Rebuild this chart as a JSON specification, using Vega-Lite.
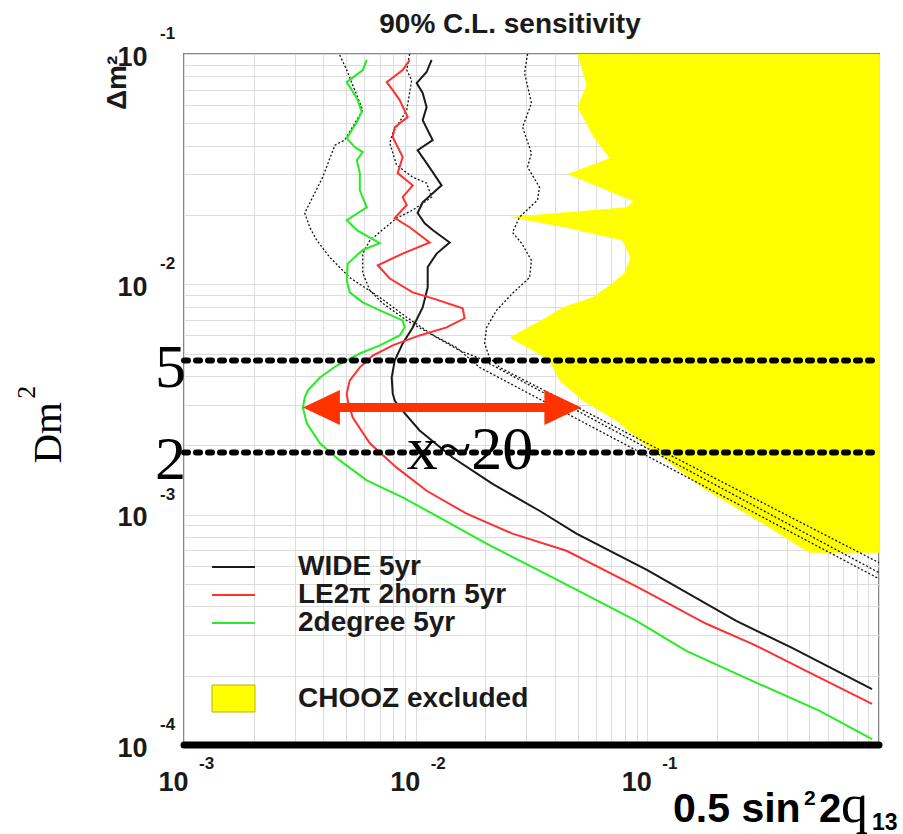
{
  "$schema": "https://vega.github.io/schema/vega-lite/v6.json",
  "autosize": {"type": "none"},
  "padding": {"left": 184, "top": 54, "right": 24, "bottom": 89},
  "width": 695,
  "height": 691,
  "background": "white",
  "config": {"view": {"stroke": "#888888", "strokeWidth": 2}, "font": "Liberation Sans"},
  "datasets": {
    "chooz": [
      {"region": "CHOOZ excluded", "s": 0.04993, "dm": 0.1},
      {"region": "CHOOZ excluded", "s": 0.05461, "dm": 0.0733},
      {"region": "CHOOZ excluded", "s": 0.04993, "dm": 0.0588},
      {"region": "CHOOZ excluded", "s": 0.0585, "dm": 0.0436},
      {"region": "CHOOZ excluded", "s": 0.0686, "dm": 0.0353},
      {"region": "CHOOZ excluded", "s": 0.04521, "dm": 0.0301},
      {"region": "CHOOZ excluded", "s": 0.087, "dm": 0.02296},
      {"region": "CHOOZ excluded", "s": 0.0812, "dm": 0.0216},
      {"region": "CHOOZ excluded", "s": 0.02542, "dm": 0.0196},
      {"region": "CHOOZ excluded", "s": 0.04611, "dm": 0.0175},
      {"region": "CHOOZ excluded", "s": 0.078, "dm": 0.0155},
      {"region": "CHOOZ excluded", "s": 0.0845, "dm": 0.013},
      {"region": "CHOOZ excluded", "s": 0.0796, "dm": 0.0112},
      {"region": "CHOOZ excluded", "s": 0.07067, "dm": 0.0101},
      {"region": "CHOOZ excluded", "s": 0.05794, "dm": 0.00878},
      {"region": "CHOOZ excluded", "s": 0.04302, "dm": 0.00794},
      {"region": "CHOOZ excluded", "s": 0.0367, "dm": 0.00719},
      {"region": "CHOOZ excluded", "s": 0.02542, "dm": 0.00588},
      {"region": "CHOOZ excluded", "s": 0.03194, "dm": 0.00516},
      {"region": "CHOOZ excluded", "s": 0.03781, "dm": 0.00467},
      {"region": "CHOOZ excluded", "s": 0.04176, "dm": 0.00382},
      {"region": "CHOOZ excluded", "s": 0.05247, "dm": 0.00313},
      {"region": "CHOOZ excluded", "s": 0.07354, "dm": 0.00256},
      {"region": "CHOOZ excluded", "s": 0.102, "dm": 0.00194},
      {"region": "CHOOZ excluded", "s": 0.1334, "dm": 0.0016},
      {"region": "CHOOZ excluded", "s": 0.1726, "dm": 0.00131},
      {"region": "CHOOZ excluded", "s": 0.2419, "dm": 0.00107},
      {"region": "CHOOZ excluded", "s": 0.3357, "dm": 0.000878},
      {"region": "CHOOZ excluded", "s": 0.4992, "dm": 0.000684}
    ],
    "dotted": [
      {"curve": "d1", "s": 0.0047, "dm": 0.099},
      {"curve": "d1", "s": 0.00504, "dm": 0.0852},
      {"curve": "d1", "s": 0.00591, "dm": 0.0571},
      {"curve": "d1", "s": 0.00494, "dm": 0.0423},
      {"curve": "d1", "s": 0.00448, "dm": 0.0402},
      {"curve": "d1", "s": 0.00397, "dm": 0.0292},
      {"curve": "d1", "s": 0.00332, "dm": 0.0204},
      {"curve": "d1", "s": 0.00349, "dm": 0.0177},
      {"curve": "d1", "s": 0.003745, "dm": 0.0155},
      {"curve": "d1", "s": 0.00426, "dm": 0.0131},
      {"curve": "d1", "s": 0.00519, "dm": 0.0107},
      {"curve": "d1", "s": 0.007, "dm": 0.00878},
      {"curve": "d1", "s": 0.00915, "dm": 0.00719},
      {"curve": "d1", "s": 0.01232, "dm": 0.00588},
      {"curve": "d1", "s": 0.01548, "dm": 0.00516},
      {"curve": "d1", "s": 0.01888, "dm": 0.00477},
      {"curve": "d1", "s": 1.0, "dm": 0.00056},
      {"curve": "d2", "s": 0.00942, "dm": 0.1},
      {"curve": "d2", "s": 0.00915, "dm": 0.0852},
      {"curve": "d2", "s": 0.00961, "dm": 0.077},
      {"curve": "d2", "s": 0.00915, "dm": 0.0571},
      {"curve": "d2", "s": 0.00796, "dm": 0.0453},
      {"curve": "d2", "s": 0.00773, "dm": 0.041},
      {"curve": "d2", "s": 0.00828, "dm": 0.0329},
      {"curve": "d2", "s": 0.00971, "dm": 0.0292},
      {"curve": "d2", "s": 0.01115, "dm": 0.0275},
      {"curve": "d2", "s": 0.01172, "dm": 0.0239},
      {"curve": "d2", "s": 0.00971, "dm": 0.021},
      {"curve": "d2", "s": 0.00828, "dm": 0.0194},
      {"curve": "d2", "s": 0.00634, "dm": 0.0155},
      {"curve": "d2", "s": 0.00591, "dm": 0.0136},
      {"curve": "d2", "s": 0.00591, "dm": 0.0112},
      {"curve": "d2", "s": 0.00634, "dm": 0.00942},
      {"curve": "d2", "s": 0.00721, "dm": 0.00827},
      {"curve": "d2", "s": 0.00915, "dm": 0.00697},
      {"curve": "d2", "s": 0.01149, "dm": 0.00612},
      {"curve": "d2", "s": 0.01502, "dm": 0.00532},
      {"curve": "d2", "s": 0.01888, "dm": 0.00436},
      {"curve": "d2", "s": 1.0, "dm": 0.000527},
      {"curve": "d3", "s": 0.0304, "dm": 0.1},
      {"curve": "d3", "s": 0.02951, "dm": 0.0827},
      {"curve": "d3", "s": 0.03162, "dm": 0.0612},
      {"curve": "d3", "s": 0.02893, "dm": 0.0481},
      {"curve": "d3", "s": 0.03162, "dm": 0.0371},
      {"curve": "d3", "s": 0.0304, "dm": 0.0323},
      {"curve": "d3", "s": 0.03424, "dm": 0.0264},
      {"curve": "d3", "s": 0.03356, "dm": 0.0232},
      {"curve": "d3", "s": 0.02808, "dm": 0.0196},
      {"curve": "d3", "s": 0.02619, "dm": 0.0168},
      {"curve": "d3", "s": 0.02864, "dm": 0.0151},
      {"curve": "d3", "s": 0.03162, "dm": 0.0127},
      {"curve": "d3", "s": 0.03101, "dm": 0.0107},
      {"curve": "d3", "s": 0.02619, "dm": 0.00914},
      {"curve": "d3", "s": 0.02234, "dm": 0.00771},
      {"curve": "d3", "s": 0.02023, "dm": 0.0065},
      {"curve": "d3", "s": 0.01984, "dm": 0.00554},
      {"curve": "d3", "s": 0.02084, "dm": 0.00481},
      {"curve": "d3", "s": 0.02302, "dm": 0.00436},
      {"curve": "d3", "s": 1.0, "dm": 0.000619}
    ],
    "curves": [
      {"series": "WIDE 5yr", "s": 0.01172, "dm": 0.0942},
      {"series": "WIDE 5yr", "s": 0.01115, "dm": 0.0835},
      {"series": "WIDE 5yr", "s": 0.0101, "dm": 0.0748},
      {"series": "WIDE 5yr", "s": 0.01072, "dm": 0.0677},
      {"series": "WIDE 5yr", "s": 0.01115, "dm": 0.0588},
      {"series": "WIDE 5yr", "s": 0.01072, "dm": 0.0516},
      {"series": "WIDE 5yr", "s": 0.01184, "dm": 0.0423},
      {"series": "WIDE 5yr", "s": 0.0102, "dm": 0.0382},
      {"series": "WIDE 5yr", "s": 0.01115, "dm": 0.0336},
      {"series": "WIDE 5yr", "s": 0.01294, "dm": 0.0269},
      {"series": "WIDE 5yr", "s": 0.01072, "dm": 0.0227},
      {"series": "WIDE 5yr", "s": 0.0102, "dm": 0.0204},
      {"series": "WIDE 5yr", "s": 0.01094, "dm": 0.0184},
      {"series": "WIDE 5yr", "s": 0.01184, "dm": 0.0172},
      {"series": "WIDE 5yr", "s": 0.01402, "dm": 0.0152},
      {"series": "WIDE 5yr", "s": 0.01232, "dm": 0.0136},
      {"series": "WIDE 5yr", "s": 0.01127, "dm": 0.0119},
      {"series": "WIDE 5yr", "s": 0.01127, "dm": 0.0097},
      {"series": "WIDE 5yr", "s": 0.01072, "dm": 0.00794},
      {"series": "WIDE 5yr", "s": 0.00971, "dm": 0.0065},
      {"series": "WIDE 5yr", "s": 0.00879, "dm": 0.00554},
      {"series": "WIDE 5yr", "s": 0.00812, "dm": 0.00467},
      {"series": "WIDE 5yr", "s": 0.00788, "dm": 0.00394},
      {"series": "WIDE 5yr", "s": 0.00796, "dm": 0.00336},
      {"series": "WIDE 5yr", "s": 0.00812, "dm": 0.00313},
      {"series": "WIDE 5yr", "s": 0.00853, "dm": 0.00292},
      {"series": "WIDE 5yr", "s": 0.0104, "dm": 0.00232},
      {"series": "WIDE 5yr", "s": 0.01444, "dm": 0.00177},
      {"series": "WIDE 5yr", "s": 0.02147, "dm": 0.00136},
      {"series": "WIDE 5yr", "s": 0.03424, "dm": 0.00104},
      {"series": "WIDE 5yr", "s": 0.04943, "dm": 0.000827},
      {"series": "WIDE 5yr", "s": 0.1, "dm": 0.000574},
      {"series": "WIDE 5yr", "s": 0.2419, "dm": 0.000346},
      {"series": "WIDE 5yr", "s": 0.4217, "dm": 0.000264},
      {"series": "WIDE 5yr", "s": 0.933, "dm": 0.000175},
      {"series": "LE2π 2horn 5yr", "s": 0.00942, "dm": 0.0942},
      {"series": "LE2π 2horn 5yr", "s": 0.00879, "dm": 0.0852},
      {"series": "LE2π 2horn 5yr", "s": 0.0075, "dm": 0.0755},
      {"series": "LE2π 2horn 5yr", "s": 0.00796, "dm": 0.0697},
      {"series": "LE2π 2horn 5yr", "s": 0.00853, "dm": 0.0631},
      {"series": "LE2π 2horn 5yr", "s": 0.00924, "dm": 0.0532},
      {"series": "LE2π 2horn 5yr", "s": 0.00812, "dm": 0.0481},
      {"series": "LE2π 2horn 5yr", "s": 0.00796, "dm": 0.0436},
      {"series": "LE2π 2horn 5yr", "s": 0.00879, "dm": 0.0357},
      {"series": "LE2π 2horn 5yr", "s": 0.00836, "dm": 0.0304},
      {"series": "LE2π 2horn 5yr", "s": 0.00971, "dm": 0.0269},
      {"series": "LE2π 2horn 5yr", "s": 0.00879, "dm": 0.0239},
      {"series": "LE2π 2horn 5yr", "s": 0.00915, "dm": 0.0221},
      {"series": "LE2π 2horn 5yr", "s": 0.00812, "dm": 0.0194},
      {"series": "LE2π 2horn 5yr", "s": 0.00942, "dm": 0.0177},
      {"series": "LE2π 2horn 5yr", "s": 0.01149, "dm": 0.0152},
      {"series": "LE2π 2horn 5yr", "s": 0.00879, "dm": 0.0136},
      {"series": "LE2π 2horn 5yr", "s": 0.00686, "dm": 0.0121},
      {"series": "LE2π 2horn 5yr", "s": 0.00773, "dm": 0.0106},
      {"series": "LE2π 2horn 5yr", "s": 0.00971, "dm": 0.00923},
      {"series": "LE2π 2horn 5yr", "s": 0.01184, "dm": 0.00869},
      {"series": "LE2π 2horn 5yr", "s": 0.01595, "dm": 0.00787},
      {"series": "LE2π 2horn 5yr", "s": 0.01626, "dm": 0.00712},
      {"series": "LE2π 2horn 5yr", "s": 0.0136, "dm": 0.0065},
      {"series": "LE2π 2horn 5yr", "s": 0.0104, "dm": 0.006},
      {"series": "LE2π 2horn 5yr", "s": 0.00796, "dm": 0.00543},
      {"series": "LE2π 2horn 5yr", "s": 0.00653, "dm": 0.00491},
      {"series": "LE2π 2horn 5yr", "s": 0.00574, "dm": 0.00436},
      {"series": "LE2π 2horn 5yr", "s": 0.00519, "dm": 0.00382},
      {"series": "LE2π 2horn 5yr", "s": 0.00504, "dm": 0.00336},
      {"series": "LE2π 2horn 5yr", "s": 0.00509, "dm": 0.00313},
      {"series": "LE2π 2horn 5yr", "s": 0.00535, "dm": 0.00264},
      {"series": "LE2π 2horn 5yr", "s": 0.00634, "dm": 0.00204},
      {"series": "LE2π 2horn 5yr", "s": 0.00828, "dm": 0.0016},
      {"series": "LE2π 2horn 5yr", "s": 0.01115, "dm": 0.00127},
      {"series": "LE2π 2horn 5yr", "s": 0.01659, "dm": 0.00101},
      {"series": "LE2π 2horn 5yr", "s": 0.02619, "dm": 0.000827},
      {"series": "LE2π 2horn 5yr", "s": 0.04477, "dm": 0.000697},
      {"series": "LE2π 2horn 5yr", "s": 0.0917, "dm": 0.000482},
      {"series": "LE2π 2horn 5yr", "s": 0.1797, "dm": 0.000336},
      {"series": "LE2π 2horn 5yr", "s": 0.2836, "dm": 0.000275},
      {"series": "LE2π 2horn 5yr", "s": 0.4845, "dm": 0.00021},
      {"series": "LE2π 2horn 5yr", "s": 0.933, "dm": 0.000151},
      {"series": "2degree 5yr", "s": 0.00615, "dm": 0.0942},
      {"series": "2degree 5yr", "s": 0.00591, "dm": 0.0852},
      {"series": "2degree 5yr", "s": 0.00504, "dm": 0.0755},
      {"series": "2degree 5yr", "s": 0.0053, "dm": 0.0697},
      {"series": "2degree 5yr", "s": 0.00562, "dm": 0.0631},
      {"series": "2degree 5yr", "s": 0.00585, "dm": 0.056},
      {"series": "2degree 5yr", "s": 0.00557, "dm": 0.0506},
      {"series": "2degree 5yr", "s": 0.00504, "dm": 0.0431},
      {"series": "2degree 5yr", "s": 0.00546, "dm": 0.0394},
      {"series": "2degree 5yr", "s": 0.00591, "dm": 0.0375},
      {"series": "2degree 5yr", "s": 0.00557, "dm": 0.0346},
      {"series": "2degree 5yr", "s": 0.00574, "dm": 0.0304},
      {"series": "2degree 5yr", "s": 0.00574, "dm": 0.0256},
      {"series": "2degree 5yr", "s": 0.00615, "dm": 0.0216},
      {"series": "2degree 5yr", "s": 0.00504, "dm": 0.019},
      {"series": "2degree 5yr", "s": 0.00557, "dm": 0.0172},
      {"series": "2degree 5yr", "s": 0.007, "dm": 0.0151},
      {"series": "2degree 5yr", "s": 0.00591, "dm": 0.0141},
      {"series": "2degree 5yr", "s": 0.00509, "dm": 0.0123},
      {"series": "2degree 5yr", "s": 0.00504, "dm": 0.0104},
      {"series": "2degree 5yr", "s": 0.00519, "dm": 0.00923},
      {"series": "2degree 5yr", "s": 0.00591, "dm": 0.00835},
      {"series": "2degree 5yr", "s": 0.007, "dm": 0.00771},
      {"series": "2degree 5yr", "s": 0.00879, "dm": 0.00697},
      {"series": "2degree 5yr", "s": 0.00897, "dm": 0.0065},
      {"series": "2degree 5yr", "s": 0.00853, "dm": 0.006},
      {"series": "2degree 5yr", "s": 0.007, "dm": 0.00543},
      {"series": "2degree 5yr", "s": 0.00574, "dm": 0.00501},
      {"series": "2degree 5yr", "s": 0.00457, "dm": 0.00444},
      {"series": "2degree 5yr", "s": 0.00386, "dm": 0.00394},
      {"series": "2degree 5yr", "s": 0.00342, "dm": 0.00346},
      {"series": "2degree 5yr", "s": 0.00332, "dm": 0.00322},
      {"series": "2degree 5yr", "s": 0.00326, "dm": 0.00292},
      {"series": "2degree 5yr", "s": 0.00339, "dm": 0.00249},
      {"series": "2degree 5yr", "s": 0.00386, "dm": 0.00204},
      {"series": "2degree 5yr", "s": 0.0047, "dm": 0.00172},
      {"series": "2degree 5yr", "s": 0.00615, "dm": 0.00141},
      {"series": "2degree 5yr", "s": 0.00879, "dm": 0.00119},
      {"series": "2degree 5yr", "s": 0.01269, "dm": 0.00097},
      {"series": "2degree 5yr", "s": 0.02023, "dm": 0.000748},
      {"series": "2degree 5yr", "s": 0.0429, "dm": 0.000508},
      {"series": "2degree 5yr", "s": 0.0897, "dm": 0.000346},
      {"series": "2degree 5yr", "s": 0.1473, "dm": 0.000256},
      {"series": "2degree 5yr", "s": 0.2836, "dm": 0.00019},
      {"series": "2degree 5yr", "s": 0.5512, "dm": 0.000141},
      {"series": "2degree 5yr", "s": 0.933, "dm": 0.000106}
    ],
    "levels": [
      {"dm": 0.00467, "t": "5"},
      {"dm": 0.00186, "t": "2"}
    ],
    "arrow": [
      {"s": 0.00326, "dm": 0.00292, "dir": "left"},
      {"s": 0.0519, "dm": 0.00292, "dir": "right"}
    ],
    "yexp": [
      {"dm": 0.1, "e": "-1"},
      {"dm": 0.01, "e": "-2"},
      {"dm": 0.001, "e": "-3"},
      {"dm": 0.0001, "e": "-4"}
    ],
    "xexp": [
      {"s": 0.001, "e": "-3"},
      {"s": 0.01, "e": "-2"},
      {"s": 0.1, "e": "-1"}
    ]
  },
  "layer": [
    {
      "data": {"name": "chooz"},
      "mark": {"type": "area", "orient": "horizontal", "opacity": 1},
      "encoding": {
        "y": {"field": "dm", "type": "quantitative", "scale": {"type": "log", "domain": [0.0001, 0.1], "nice": false},
          "axis": {"values": [0.0001,0.0002,0.0003,0.0004,0.0005,0.0006,0.0007,0.0008,0.0009,0.001,0.002,0.003,0.004,0.005,0.006,0.007,0.008,0.009,0.01,0.02,0.03,0.04,0.05,0.06,0.07,0.08,0.09,0.1],
            "labelExpr": "(datum.value == 0.0001 || datum.value == 0.001 || datum.value == 0.01 || datum.value == 0.1) ? '10' : ''",
            "grid": true, "gridColor": "#dddddd", "gridWidth": 1, "ticks": false, "domain": false,
            "labelFont": "Liberation Sans", "labelFontWeight": "bold", "labelFontSize": 27, "labelColor": "#1a1a1a",
            "labelAlign": "right", "labelBaseline": "middle", "labelPadding": 37, "labelOffset": 3, "labelOverlap": false, "labelFlush": false,
            "title": "Dm", "titleFont": "Liberation Serif", "titleFontSize": 41, "titleFontWeight": "normal", "titleColor": "#000000",
            "titleAngle": 270, "titleX": -124, "titleY": 409, "titleAlign": "left", "titleBaseline": "alphabetic"}},
        "x": {"field": "s", "type": "quantitative", "stack": null, "scale": {"type": "log", "domain": [0.001, 1], "nice": false},
          "axis": {"values": [0.001,0.002,0.003,0.004,0.005,0.006,0.007,0.008,0.009,0.01,0.02,0.03,0.04,0.05,0.06,0.07,0.08,0.09,0.1,0.2,0.3,0.4,0.5,0.6,0.7,0.8,0.9,1],
            "labelExpr": "(datum.value == 0.001 || datum.value == 0.01 || datum.value == 0.1) ? '10' : ''",
            "grid": true, "gridColor": "#dddddd", "gridWidth": 1, "ticks": false, "domain": false,
            "labelFont": "Liberation Sans", "labelFontWeight": "bold", "labelFontSize": 27, "labelColor": "#1a1a1a",
            "labelAlign": "center", "labelBaseline": "top", "labelPadding": 24, "labelOffset": -11, "labelOverlap": false, "labelFlush": false,
            "title": null}},
        "x2": {"datum": 1},
        "fill": {"field": "region", "type": "nominal", "scale": {"range": ["#ffff00"]},
          "legend": {"orient": "none", "legendX": 35.5, "legendY": 630.5, "title": null, "direction": "vertical",
            "symbolType": "M-1.79,-1.125H1.79V1.125H-1.79Z", "symbolSize": 576, "symbolStrokeColor": "#b5b500", "symbolStrokeWidth": 1, "symbolOpacity": 1,
            "labelFont": "Liberation Sans", "labelFontWeight": "bold", "labelFontSize": 28, "labelColor": "#1a1a1a", "labelOffset": 50.5, "labelLimit": 400, "rowPadding": 0, "padding": 0}},
        "order": {"value": null}
      }
    },
    {
      "data": {"name": "dotted"},
      "mark": {"type": "line", "color": "#111111", "strokeWidth": 1.3, "strokeDash": [2, 2]},
      "encoding": {
        "x": {"field": "s", "type": "quantitative", "scale": {"type": "log", "domain": [0.001, 1], "nice": false}},
        "y": {"field": "dm", "type": "quantitative", "scale": {"type": "log", "domain": [0.0001, 0.1], "nice": false}},
        "detail": {"field": "curve", "type": "nominal"},
        "order": {"value": null}
      }
    },
    {
      "data": {"name": "curves"},
      "mark": {"type": "line", "strokeWidth": 2},
      "encoding": {
        "x": {"field": "s", "type": "quantitative", "scale": {"type": "log", "domain": [0.001, 1], "nice": false}},
        "y": {"field": "dm", "type": "quantitative", "scale": {"type": "log", "domain": [0.0001, 0.1], "nice": false}},
        "stroke": {"field": "series", "type": "nominal",
          "scale": {"domain": ["WIDE 5yr", "LE2π 2horn 5yr", "2degree 5yr"], "range": ["#1a1a1a", "#ff3030", "#22ee22"]},
          "legend": {"orient": "none", "legendX": 35.5, "legendY": 499, "title": null, "direction": "vertical",
            "symbolType": "M-1.79,0H1.79", "symbolSize": 576, "symbolStrokeWidth": 2,
            "labelFont": "Liberation Sans", "labelFontWeight": "bold", "labelFontSize": 28, "labelColor": "#1a1a1a", "labelOffset": 50.5, "labelLimit": 400, "rowPadding": 0, "padding": 0}},
        "order": {"value": null}
      }
    },
    {
      "data": {"name": "levels"},
      "mark": {"type": "rule", "color": "#000000", "strokeWidth": 6, "strokeDash": [4, 8], "strokeCap": "round"},
      "encoding": {
        "x": {"datum": 0.001, "type": "quantitative", "scale": {"type": "log", "domain": [0.001, 1], "nice": false}},
        "x2": {"datum": 1},
        "y": {"field": "dm", "type": "quantitative", "scale": {"type": "log", "domain": [0.0001, 0.1], "nice": false}}
      }
    },
    {
      "data": {"values": [{}]},
      "mark": {"type": "rule", "color": "#000000", "strokeWidth": 7, "strokeCap": "round"},
      "encoding": {
        "x": {"datum": 0.001, "type": "quantitative", "scale": {"type": "log", "domain": [0.001, 1], "nice": false}},
        "x2": {"datum": 1},
        "y": {"datum": 0.0001, "type": "quantitative", "scale": {"type": "log", "domain": [0.0001, 0.1], "nice": false}}
      }
    },
    {
      "data": {"values": [{}]},
      "mark": {"type": "rule", "color": "#ff3300", "strokeWidth": 9},
      "encoding": {
        "x": {"datum": 0.00386, "type": "quantitative", "scale": {"type": "log", "domain": [0.001, 1], "nice": false}},
        "x2": {"datum": 0.0439},
        "y": {"datum": 0.00292, "type": "quantitative", "scale": {"type": "log", "domain": [0.0001, 0.1], "nice": false}}
      }
    },
    {
      "data": {"name": "arrow"},
      "mark": {"type": "point", "filled": true, "size": 1369, "color": "#ff3300", "opacity": 1, "strokeWidth": 0},
      "encoding": {
        "x": {"field": "s", "type": "quantitative", "scale": {"type": "log", "domain": [0.001, 1], "nice": false}},
        "y": {"field": "dm", "type": "quantitative", "scale": {"type": "log", "domain": [0.0001, 0.1], "nice": false}},
        "shape": {"field": "dir", "type": "nominal", "scale": {"domain": ["left", "right"], "range": ["M0,0L2,-0.95L2,0.95Z", "M0,0L-2,-0.95L-2,0.95Z"]}, "legend": null}
      }
    },
    {
      "data": {"name": "levels"},
      "mark": {"type": "text", "align": "right", "baseline": "alphabetic", "dx": 2, "dy": 26.5, "font": "Liberation Serif", "fontSize": 62, "color": "#000000"},
      "encoding": {
        "x": {"datum": 0.001, "type": "quantitative", "scale": {"type": "log", "domain": [0.001, 1], "nice": false}},
        "y": {"field": "dm", "type": "quantitative", "scale": {"type": "log", "domain": [0.0001, 0.1], "nice": false}},
        "text": {"field": "t"}
      }
    },
    {
      "data": {"values": [{}]},
      "mark": {"type": "text", "text": "x~20", "align": "left", "baseline": "alphabetic", "dy": 16, "font": "Liberation Serif", "fontSize": 62, "color": "#000000"},
      "encoding": {
        "x": {"datum": 0.00915, "type": "quantitative", "scale": {"type": "log", "domain": [0.001, 1], "nice": false}},
        "y": {"datum": 0.00186, "type": "quantitative", "scale": {"type": "log", "domain": [0.0001, 0.1], "nice": false}}
      }
    },
    {
      "data": {"values": [{}]},
      "mark": {"type": "text", "text": "90% C.L. sensitivity", "align": "center", "baseline": "alphabetic", "dy": -21, "font": "Liberation Sans", "fontWeight": "bold", "fontSize": 28, "color": "#1a1a1a"},
      "encoding": {
        "x": {"datum": 0.02554, "type": "quantitative", "scale": {"type": "log", "domain": [0.001, 1], "nice": false}},
        "y": {"datum": 0.1, "type": "quantitative", "scale": {"type": "log", "domain": [0.0001, 0.1], "nice": false}}
      }
    },
    {
      "data": {"name": "yexp"},
      "mark": {"type": "text", "align": "left", "baseline": "middle", "dx": -24, "dy": -20, "font": "Liberation Sans", "fontWeight": "bold", "fontSize": 17, "color": "#1a1a1a"},
      "encoding": {
        "x": {"datum": 0.001, "type": "quantitative", "scale": {"type": "log", "domain": [0.001, 1], "nice": false}},
        "y": {"field": "dm", "type": "quantitative", "scale": {"type": "log", "domain": [0.0001, 0.1], "nice": false}},
        "text": {"field": "e"}
      }
    },
    {
      "data": {"name": "xexp"},
      "mark": {"type": "text", "align": "left", "baseline": "middle", "dx": 15, "dy": 19, "font": "Liberation Sans", "fontWeight": "bold", "fontSize": 17, "color": "#1a1a1a"},
      "encoding": {
        "x": {"field": "s", "type": "quantitative", "scale": {"type": "log", "domain": [0.001, 1], "nice": false}},
        "y": {"datum": 0.0001, "type": "quantitative", "scale": {"type": "log", "domain": [0.0001, 0.1], "nice": false}},
        "text": {"field": "e"}
      }
    },
    {
      "data": {"values": [{}]},
      "mark": {"type": "text", "text": "Δm²", "angle": 270, "align": "left", "baseline": "alphabetic", "font": "Liberation Sans", "fontWeight": "bold", "fontSize": 28, "color": "#1a1a1a"},
      "encoding": {
        "x": {"datum": 0.000562, "type": "quantitative", "scale": {"type": "log", "domain": [0.001, 1], "nice": false}},
        "y": {"datum": 0.0571, "type": "quantitative", "scale": {"type": "log", "domain": [0.0001, 0.1], "nice": false}}
      }
    },
    {
      "data": {"values": [{}]},
      "mark": {"type": "text", "text": "2", "angle": 270, "align": "left", "baseline": "alphabetic", "font": "Liberation Serif", "fontSize": 26, "color": "#000000"},
      "encoding": {
        "x": {"datum": 0.000228, "type": "quantitative", "scale": {"type": "log", "domain": [0.001, 1], "nice": false}},
        "y": {"datum": 0.00319, "type": "quantitative", "scale": {"type": "log", "domain": [0.0001, 0.1], "nice": false}}
      }
    },
    {
      "data": {"values": [{}]},
      "mark": {"type": "text", "text": "0.5 sin", "align": "left", "baseline": "alphabetic", "dx": -206, "dy": 77, "font": "Liberation Sans", "fontWeight": "bold", "fontSize": 41, "color": "#000000"},
      "encoding": {
        "x": {"datum": 1, "type": "quantitative", "scale": {"type": "log", "domain": [0.001, 1], "nice": false}},
        "y": {"datum": 0.0001, "type": "quantitative", "scale": {"type": "log", "domain": [0.0001, 0.1], "nice": false}}
      }
    },
    {
      "data": {"values": [{}]},
      "mark": {"type": "text", "text": "2", "align": "left", "baseline": "alphabetic", "dx": -75, "dy": 60, "font": "Liberation Sans", "fontWeight": "bold", "fontSize": 21, "color": "#000000"},
      "encoding": {
        "x": {"datum": 1, "type": "quantitative", "scale": {"type": "log", "domain": [0.001, 1], "nice": false}},
        "y": {"datum": 0.0001, "type": "quantitative", "scale": {"type": "log", "domain": [0.0001, 0.1], "nice": false}}
      }
    },
    {
      "data": {"values": [{}]},
      "mark": {"type": "text", "text": "2", "align": "left", "baseline": "alphabetic", "dx": -60, "dy": 77, "font": "Liberation Sans", "fontWeight": "bold", "fontSize": 40, "color": "#000000"},
      "encoding": {
        "x": {"datum": 1, "type": "quantitative", "scale": {"type": "log", "domain": [0.001, 1], "nice": false}},
        "y": {"datum": 0.0001, "type": "quantitative", "scale": {"type": "log", "domain": [0.0001, 0.1], "nice": false}}
      }
    },
    {
      "data": {"values": [{}]},
      "mark": {"type": "text", "text": "q", "align": "left", "baseline": "alphabetic", "dx": -38, "dy": 77, "font": "Liberation Serif", "fontSize": 54, "color": "#000000"},
      "encoding": {
        "x": {"datum": 1, "type": "quantitative", "scale": {"type": "log", "domain": [0.001, 1], "nice": false}},
        "y": {"datum": 0.0001, "type": "quantitative", "scale": {"type": "log", "domain": [0.0001, 0.1], "nice": false}}
      }
    },
    {
      "data": {"values": [{}]},
      "mark": {"type": "text", "text": "13", "align": "left", "baseline": "alphabetic", "dx": -7, "dy": 85, "font": "Liberation Sans", "fontWeight": "bold", "fontSize": 23, "color": "#000000"},
      "encoding": {
        "x": {"datum": 1, "type": "quantitative", "scale": {"type": "log", "domain": [0.001, 1], "nice": false}},
        "y": {"datum": 0.0001, "type": "quantitative", "scale": {"type": "log", "domain": [0.0001, 0.1], "nice": false}}
      }
    }
  ]
}
